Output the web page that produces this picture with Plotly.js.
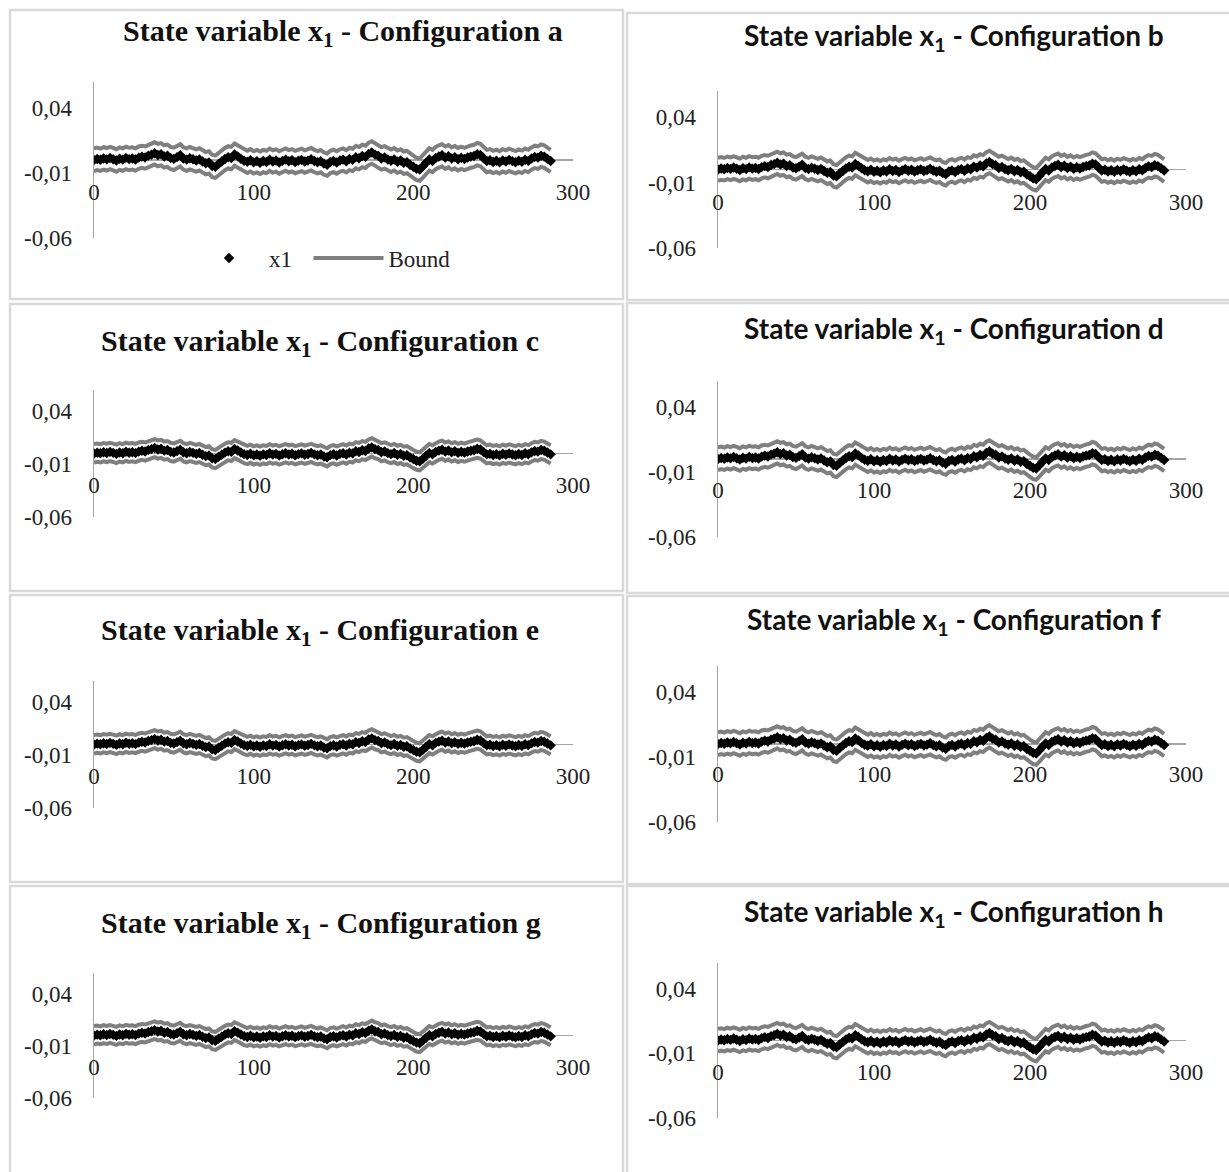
<!DOCTYPE html>
<html>
<head>
<meta charset="utf-8">
<script src="https://cdn.plot.ly/plotly-3.0.1.min.js"></script>
<style>
html,body{margin:0;padding:0;background:#fff;}
#chart{width:1229px;height:1172px;}
</style>
</head>
<body>
<div id="chart"></div>
<script>
// ---------- DATA ----------
const panelNames = ["a","b","c","d","e","f","g","h"];
const titleText = "State variable x<sub>1</sub> - Configuration ";
const seriesNames = ["x1", "Bound"];

const xValues = [0,2,4,6,8,10,12,14,16,18,20,22,24,26,28,30,32,34,36,38,40,42,44,46,48,50,52,54,56,58,60,62,64,66,68,70,72,74,76,78,80,82,84,86,88,90,92,94,96,98,100,102,104,106,108,110,112,114,116,118,120,122,124,126,128,130,132,134,136,138,140,142,144,146,148,150,152,154,156,158,160,162,164,166,168,170,172,174,176,178,180,182,184,186,188,190,192,194,196,198,200,202,204,206,208,210,212,214,216,218,220,222,224,226,228,230,232,234,236,238,240,242,244,246,248,250,252,254,256,258,260,262,264,266,268,270,272,274,276,278,280,282,284,286];

const x1Values = [0.0000,0.0008,0.0002,0.0012,0.0005,0.0015,0.0006,-0.0004,0.0010,0.0003,0.0016,0.0007,0.0012,0.0004,0.0018,0.0026,0.0019,0.0034,0.0041,0.0052,0.0038,0.0045,0.0027,0.0033,0.0015,0.0009,0.0022,0.0036,0.0012,0.0003,0.0014,0.0006,-0.0004,0.0005,-0.0012,-0.0025,-0.0018,-0.0046,-0.0052,-0.0031,-0.0012,0.0008,0.0021,0.0015,0.0042,0.0028,0.0009,-0.0006,-0.0014,-0.0002,-0.0018,-0.0009,-0.0021,-0.0008,-0.0015,0.0002,-0.0011,-0.0004,-0.0019,-0.0007,0.0003,-0.0010,-0.0002,-0.0016,-0.0006,0.0001,-0.0012,-0.0005,0.0006,-0.0008,-0.0017,-0.0009,-0.0028,-0.0036,-0.0015,-0.0007,-0.0019,-0.0004,0.0003,-0.0010,0.0008,0.0001,0.0022,0.0014,0.0031,0.0024,0.0047,0.0058,0.0041,0.0033,0.0012,0.0020,0.0004,-0.0006,0.0005,-0.0013,-0.0004,-0.0021,-0.0016,-0.0038,-0.0052,-0.0068,-0.0074,-0.0049,-0.0021,0.0004,-0.0008,0.0015,0.0027,0.0036,0.0018,0.0029,0.0011,0.0022,0.0006,0.0017,0.0008,0.0019,0.0026,0.0031,0.0045,0.0038,0.0014,-0.0008,-0.0002,-0.0015,-0.0006,-0.0018,-0.0003,-0.0012,0.0001,-0.0009,-0.0017,-0.0005,-0.0014,0.0002,-0.0007,0.0011,0.0024,0.0018,0.0033,0.0026,0.0009,-0.0008];

const upperBound = [0.0090,0.0095,0.0088,0.0099,0.0092,0.0101,0.0093,0.0083,0.0097,0.0089,0.0102,0.0094,0.0098,0.0090,0.0104,0.0110,0.0105,0.0118,0.0126,0.0136,0.0124,0.0130,0.0113,0.0118,0.0101,0.0095,0.0108,0.0121,0.0098,0.0089,0.0100,0.0092,0.0082,0.0091,0.0074,0.0061,0.0068,0.0040,0.0034,0.0055,0.0074,0.0093,0.0106,0.0101,0.0127,0.0113,0.0095,0.0080,0.0072,0.0084,0.0068,0.0077,0.0065,0.0078,0.0071,0.0088,0.0075,0.0082,0.0067,0.0079,0.0089,0.0076,0.0084,0.0070,0.0080,0.0087,0.0074,0.0081,0.0092,0.0078,0.0069,0.0077,0.0058,0.0050,0.0071,0.0079,0.0067,0.0082,0.0089,0.0076,0.0094,0.0087,0.0108,0.0100,0.0117,0.0110,0.0133,0.0144,0.0127,0.0119,0.0098,0.0106,0.0090,0.0080,0.0091,0.0073,0.0082,0.0065,0.0070,0.0048,0.0034,0.0018,0.0012,0.0037,0.0065,0.0090,0.0078,0.0101,0.0113,0.0122,0.0104,0.0115,0.0097,0.0108,0.0092,0.0103,0.0094,0.0105,0.0112,0.0117,0.0131,0.0124,0.0100,0.0078,0.0084,0.0071,0.0080,0.0068,0.0083,0.0074,0.0087,0.0077,0.0069,0.0081,0.0072,0.0088,0.0079,0.0097,0.0110,0.0104,0.0119,0.0112,0.0095,0.0078];

const lowerBound = [-0.0086,-0.0078,-0.0084,-0.0074,-0.0081,-0.0071,-0.0080,-0.0090,-0.0076,-0.0083,-0.0070,-0.0079,-0.0074,-0.0082,-0.0068,-0.0060,-0.0067,-0.0052,-0.0045,-0.0034,-0.0048,-0.0041,-0.0059,-0.0053,-0.0071,-0.0077,-0.0064,-0.0050,-0.0074,-0.0083,-0.0072,-0.0080,-0.0090,-0.0081,-0.0098,-0.0111,-0.0104,-0.0132,-0.0138,-0.0117,-0.0098,-0.0078,-0.0065,-0.0071,-0.0044,-0.0058,-0.0077,-0.0092,-0.0100,-0.0088,-0.0104,-0.0095,-0.0107,-0.0094,-0.0101,-0.0084,-0.0097,-0.0090,-0.0105,-0.0093,-0.0083,-0.0096,-0.0088,-0.0102,-0.0092,-0.0085,-0.0098,-0.0091,-0.0080,-0.0094,-0.0103,-0.0095,-0.0114,-0.0122,-0.0101,-0.0093,-0.0105,-0.0090,-0.0083,-0.0096,-0.0078,-0.0085,-0.0064,-0.0072,-0.0055,-0.0062,-0.0039,-0.0028,-0.0045,-0.0053,-0.0074,-0.0066,-0.0082,-0.0092,-0.0081,-0.0099,-0.0090,-0.0107,-0.0102,-0.0124,-0.0138,-0.0154,-0.0160,-0.0135,-0.0107,-0.0082,-0.0094,-0.0071,-0.0059,-0.0050,-0.0068,-0.0057,-0.0075,-0.0064,-0.0080,-0.0069,-0.0078,-0.0067,-0.0060,-0.0055,-0.0041,-0.0048,-0.0072,-0.0094,-0.0088,-0.0101,-0.0092,-0.0104,-0.0089,-0.0098,-0.0085,-0.0095,-0.0103,-0.0091,-0.0100,-0.0084,-0.0093,-0.0075,-0.0062,-0.0068,-0.0053,-0.0060,-0.0077,-0.0094];

const xTickVals = [0,100,200,300];
const xTickText = ["0","100","200","300"];
const yTickVals = [0.04,-0.01,-0.06];
const yTickText = ["0,04","-0,01","-0,06"];

// ---------- LAYOUT GEOMETRY (pixels) ----------
const W = 1229, H = 1172;
const geo = [
  {xl:94, xr:573, yt:82, yb:238, xa:176, tx:343, ty:33, box:[10,623,10,299], serif:true},
  {xl:718,xr:1186,yt:91, yb:248, xa:186, tx:954, ty:37, box:[627,1232,13,300], serif:false},
  {xl:94, xr:573, yt:390,yb:517, xa:469, tx:320, ty:343, box:[10,623,304,591], serif:true},
  {xl:718,xr:1186,yt:381,yb:537, xa:474, tx:954, ty:330, box:[627,1232,303,593], serif:false},
  {xl:94, xr:573, yt:681,yb:808, xa:760, tx:320, ty:632, box:[10,623,595,882], serif:true},
  {xl:718,xr:1186,yt:666,yb:822, xa:758, tx:954, ty:621, box:[627,1232,596,884], serif:false},
  {xl:94, xr:573, yt:973,yb:1098,xa:1051,tx:321, ty:925, box:[10,623,886,1176], serif:true},
  {xl:718,xr:1186,yt:963,yb:1118,xa:1056,tx:954, ty:913, box:[627,1232,886,1176], serif:false}
];
const px = v => v / W;
const py = v => 1 - v / H;

const serif = "'Liberation Serif', 'Times New Roman', serif";
const sans = "Lato, 'Open Sans', sans-serif";
const axisGray = "#a6a6a6";
const boundGray = "#7f7f7f";
const tickFont = {family: serif, size: 23, color: "#222"};

const data = [];
const layout = {
  width: W, height: H,
  margin: {l:0, r:0, t:0, b:0},
  paper_bgcolor: "#ffffff",
  plot_bgcolor: "rgba(0,0,0,0)",
  showlegend: true,
  legend: {
    orientation: "h",
    x: px(189), xanchor: "left",
    y: py(258), yanchor: "middle",
    font: {family: serif, size: 23, color: "#222"},
    itemwidth: 70,
    bgcolor: "rgba(0,0,0,0)"
  },
  annotations: [],
  shapes: []
};

geo.forEach((g, i) => {
  const n = i + 1;
  const xa = n === 1 ? "x" : "x" + n;
  const ya = n === 1 ? "y" : "y" + n;
  const xk = n === 1 ? "xaxis" : "xaxis" + n;
  const yk = n === 1 ? "yaxis" : "yaxis" + n;

  layout[xk] = {
    domain: [px(g.xl), px(g.xr)],
    range: [0, 300],
    anchor: "free",
    position: py(g.xa),
    showline: false, showgrid: false, zeroline: false,
    ticks: "",
    tickmode: "array", tickvals: xTickVals, ticktext: xTickText,
    tickfont: tickFont,
    fixedrange: true
  };
  layout[yk] = {
    domain: [py(g.yb), py(g.yt)],
    range: [-0.06, 0.06],
    anchor: xa,
    showline: true, linecolor: axisGray, linewidth: 1.5,
    showgrid: false,
    zeroline: true, zerolinecolor: axisGray, zerolinewidth: 1.5,
    ticks: "",
    ticklabelstandoff: 16,
    tickmode: "array", tickvals: yTickVals, ticktext: yTickText,
    tickfont: tickFont,
    fixedrange: true
  };

  data.push({
    type: "scatter", mode: "lines", x: xValues, y: upperBound,
    xaxis: xa, yaxis: ya, name: seriesNames[1], legendgroup: "bound",
    showlegend: n === 1, legendrank: 2,
    line: {color: boundGray, width: 4}, hoverinfo: "skip"
  });
  data.push({
    type: "scatter", mode: "lines", x: xValues, y: lowerBound,
    xaxis: xa, yaxis: ya, name: seriesNames[1], legendgroup: "bound",
    showlegend: false,
    line: {color: boundGray, width: 4}, hoverinfo: "skip"
  });
  data.push({
    type: "scatter", mode: "markers", x: xValues, y: x1Values,
    xaxis: xa, yaxis: ya, name: seriesNames[0] + "\u00a0\u00a0", legendgroup: "x1",
    showlegend: n === 1, legendrank: 1,
    marker: {symbol: "diamond", size: 8, color: "#000", line: {width: 0}},
    hoverinfo: "skip"
  });

  layout.annotations.push({
    xref: "paper", yref: "paper",
    x: px(g.tx), y: py(g.ty), xanchor: "center", yanchor: "middle",
    showarrow: false,
    text: titleText + panelNames[i],
    font: g.serif ? {family: serif, size: 30, color: "#111", weight: "bold"}
                  : {family: sans, size: 28, color: "#111", weight: "bold"}
  });

  layout.shapes.push({
    type: "rect", xref: "paper", yref: "paper", layer: "below",
    x0: px(g.box[0]), x1: px(g.box[1]), y0: py(g.box[3]), y1: py(g.box[2]),
    line: {color: "#d9d9d9", width: 2.5}, fillcolor: "rgba(0,0,0,0)"
  });
});

Plotly.newPlot("chart", data, layout, {staticPlot: true, displayModeBar: false});
</script>
</body>
</html>
